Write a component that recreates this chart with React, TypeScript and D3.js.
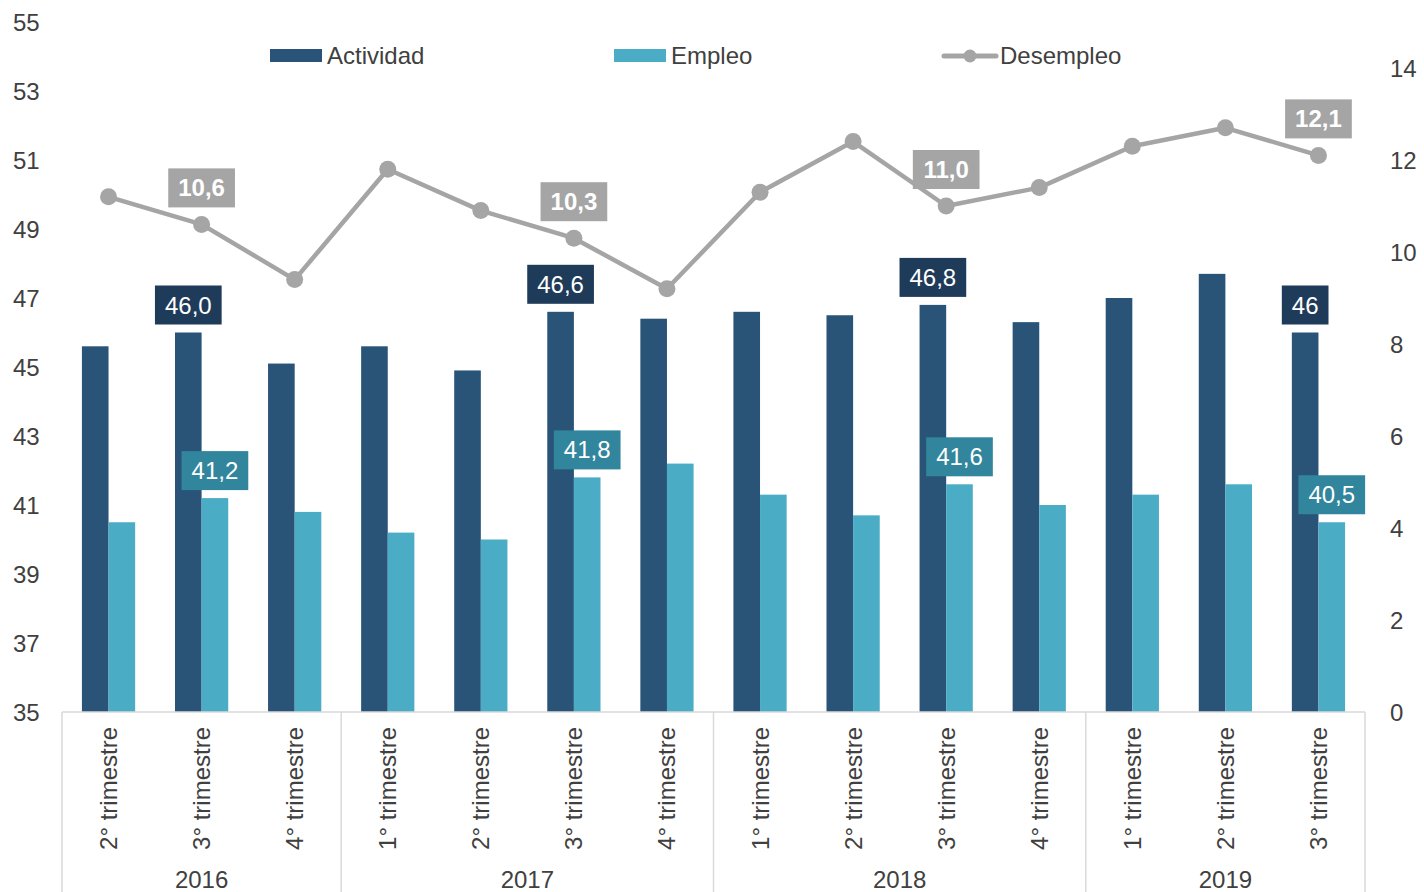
import React from "react";
import * as d3 from "d3";

const categories = [
  "2° trimestre", "3° trimestre", "4° trimestre",
  "1° trimestre", "2° trimestre", "3° trimestre", "4° trimestre",
  "1° trimestre", "2° trimestre", "3° trimestre", "4° trimestre",
  "1° trimestre", "2° trimestre", "3° trimestre",
];
const years = [
  { label: "2016", start: 0, end: 3 },
  { label: "2017", start: 3, end: 7 },
  { label: "2018", start: 7, end: 11 },
  { label: "2019", start: 11, end: 14 },
];
const actividad = [45.6, 46.0, 45.1, 45.6, 44.9, 46.6, 46.4, 46.6, 46.5, 46.8, 46.3, 47.0, 47.7, 46.0];
const empleo = [40.5, 41.2, 40.8, 40.2, 40.0, 41.8, 42.2, 41.3, 40.7, 41.6, 41.0, 41.3, 41.6, 40.5];
const desempleo = [11.2, 10.6, 9.4, 11.8, 10.9, 10.3, 9.2, 11.3, 12.4, 11.0, 11.4, 12.3, 12.7, 12.1];

const actividadLabels: [number, string][] = [[1, "46,0"], [5, "46,6"], [9, "46,8"], [13, "46"]];
const empleoLabels: [number, string][] = [[1, "41,2"], [5, "41,8"], [9, "41,6"], [13, "40,5"]];
const desempleoLabels: [number, string][] = [[1, "10,6"], [5, "10,3"], [9, "11,0"], [13, "12,1"]];

const leftTicks = [35, 37, 39, 41, 43, 45, 47, 49, 51, 53, 55];
const rightTicks = [0, 2, 4, 6, 8, 10, 12, 14];

const C_ACT = "#2a5378";
const C_EMP = "#4bacc6";
const C_DES = "#a5a5a5";
const C_ACT_LBL = "#1f3b5a";
const C_EMP_LBL = "#31859c";
const TXT = "#404040";
const FONT = "Liberation Sans, Arial, sans-serif";
const FS = 24;

export default function App() {
  const W = 1424, H = 892;
  const x0 = 62, x1 = 1365, yBase = 712;
  const x = d3.scaleBand<number>().domain(d3.range(categories.length)).range([x0, x1]).padding(0);
  const yL = d3.scaleLinear().domain([35, 55]).range([yBase, 22]);
  const yR = d3.scaleLinear().domain([0, 15]).range([yBase, 22]);
  const bw = x.bandwidth() * 0.286;
  const cx = (i: number) => (x(i) as number) + x.bandwidth() / 2;

  const line = d3.line<number>().x((_, i) => cx(i)).y((d) => yR(d));

  const textW = (s: string, fs: number) => {
    let w = 0;
    for (const ch of s) w += ch === "," ? 0.278 * fs : 0.556 * fs;
    return w;
  };

  const box = (key: string, cxp: number, bottom: number, s: string, fill: string, bold: boolean) => {
    const fs = 24;
    const w = textW(s, fs) + 20;
    const h = 39;
    return (
      <g key={key}>
        <rect x={cxp - w / 2} y={bottom - h} width={w} height={h} fill={fill} />
        <text x={cxp} y={bottom - h / 2 + 8.5} textAnchor="middle" fill="#fff" fontSize={fs}
          fontWeight={bold ? "bold" : "normal"} fontFamily={FONT}>{s}</text>
      </g>
    );
  };

  return (
    <svg width={W} height={H} style={{ position: "absolute", left: 0, top: 0 }} fontFamily={FONT}>
      <rect width={W} height={H} fill="#fff" />
      {leftTicks.map((t) => (
        <text key={"l" + t} x={13} y={yL(t) + 8.5} fontSize={FS} fill={TXT}>{t}</text>
      ))}
      {rightTicks.map((t) => (
        <text key={"r" + t} x={1390} y={yR(t) + 8.5} fontSize={FS} fill={TXT}>{t}</text>
      ))}
      {actividad.map((v, i) => (
        <rect key={"a" + i} x={cx(i) - bw} y={yL(v)} width={bw} height={yBase - yL(v)} fill={C_ACT} />
      ))}
      {empleo.map((v, i) => (
        <rect key={"e" + i} x={cx(i)} y={yL(v)} width={bw} height={yBase - yL(v)} fill={C_EMP} />
      ))}
      <line x1={x0} x2={x1} y1={yBase} y2={yBase} stroke="#d9d9d9" strokeWidth={1.5} />
      {[0, 3, 7, 11, 14].map((b) => {
        const xx = b === 14 ? x1 : (x(b) as number);
        return <line key={"s" + b} x1={xx} x2={xx} y1={yBase} y2={H} stroke="#d9d9d9" strokeWidth={1.5} />;
      })}
      {categories.map((c, i) => (
        <text key={"c" + i} transform={`translate(${cx(i) + 8.5},${727}) rotate(-90)`} textAnchor="end"
          fontSize={FS} fill={TXT}>{c}</text>
      ))}
      {years.map((g) => {
        const a = x(g.start) as number;
        const b = g.end >= categories.length ? x1 : (x(g.end) as number);
        return (
          <text key={g.label} x={(a + b) / 2} y={888} textAnchor="middle" fontSize={FS} fill={TXT}>{g.label}</text>
        );
      })}
      <path d={line(desempleo) || ""} fill="none" stroke={C_DES} strokeWidth={4.5} strokeLinejoin="round" />
      {desempleo.map((v, i) => (
        <circle key={"d" + i} cx={cx(i)} cy={yR(v)} r={8.5} fill={C_DES} />
      ))}
      {actividadLabels.map(([i, s]) => box("al" + i, cx(i) - bw / 2, yL(actividad[i]) - 8, s, C_ACT_LBL, false))}
      {empleoLabels.map(([i, s]) => box("el" + i, cx(i) + bw / 2, yL(empleo[i]) - 8, s, C_EMP_LBL, false))}
      {desempleoLabels.map(([i, s]) => box("dl" + i, cx(i), yR(desempleo[i]) - 17, s, C_DES, true))}
      <rect x={270} y={49} width={52} height={13} fill={C_ACT} />
      <text x={327} y={64} fontSize={FS} fill={TXT}>Actividad</text>
      <rect x={614} y={49} width={52} height={13} fill={C_EMP} />
      <text x={671} y={64} fontSize={FS} fill={TXT}>Empleo</text>
      <line x1={944} x2={996} y1={56} y2={56} stroke={C_DES} strokeWidth={5} strokeLinecap="round" />
      <circle cx={970} cy={56} r={6.5} fill={C_DES} />
      <text x={1000} y={64} fontSize={FS} fill={TXT}>Desempleo</text>
    </svg>
  );
}
